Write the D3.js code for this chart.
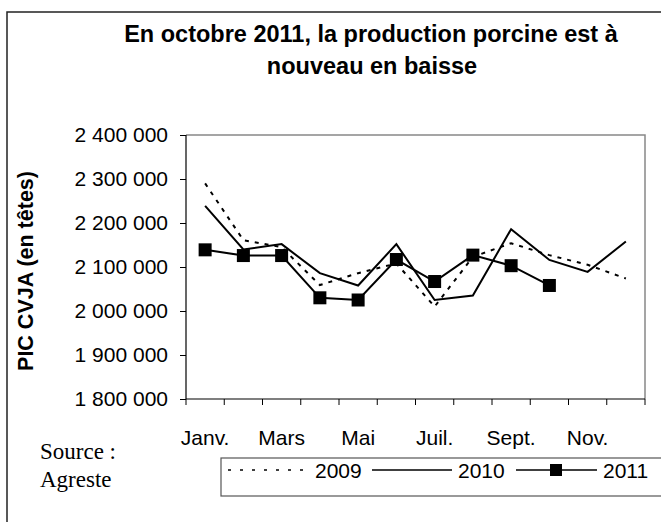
<!DOCTYPE html>
<html>
<head>
<meta charset="utf-8">
<script src="https://d3js.org/d3.v7.min.js"></script>
<style>
  body { margin: 0; background: #fff; }
  svg text { font-family: "Liberation Sans", Arial, sans-serif; fill: #000; }
</style>
</head>
<body>
<div id="chart"></div>
<script>
var width = 661, height = 522;

// donnees
var months = ["Janv.", "Févr.", "Mars", "Avr.", "Mai", "Juin", "Juil.", "Août", "Sept.", "Oct.", "Nov.", "Déc."];
var y2009 = [2290000, 2161000, 2145000, 2059000, 2086000, 2108000, 2010000, 2123000, 2154000, 2127000, 2105000, 2074000];
var y2010 = [2239000, 2140000, 2152000, 2086000, 2058000, 2152000, 2025000, 2035000, 2186000, 2116000, 2089000, 2158000];
var y2011 = [2139000, 2126000, 2126000, 2030000, 2025000, 2117000, 2067000, 2127000, 2103000, 2058000];
var yTicks = [1800000, 1900000, 2000000, 2100000, 2200000, 2300000, 2400000];

var fr = d3.formatLocale({decimal: ",", thousands: " ", grouping: [3], currency: ["", " €"]});

var svg = d3.select("#chart")
  .append("svg")
  .attr("width", width)
  .attr("height", height);

// cadre exterieur
svg.append("rect")
  .attr("x", 7).attr("y", 12)
  .attr("width", 700).attr("height", 600)
  .attr("fill", "none")
  .attr("stroke", "#222")
  .attr("stroke-width", 1.5);

// titre
svg.append("text")
  .attr("x", 371).attr("y", 42)
  .attr("text-anchor", "middle")
  .style("font-size", "23.5px").style("font-weight", "bold")
  .text("En octobre 2011, la production porcine est à");
svg.append("text")
  .attr("x", 372).attr("y", 74)
  .attr("text-anchor", "middle")
  .style("font-size", "23.5px").style("font-weight", "bold")
  .text("nouveau en baisse");

var pLeft = 186, pRight = 645, pTop = 135, pBottom = 399;

var x = d3.scaleBand().domain(months).range([pLeft, pRight]);
var y = d3.scaleLinear().domain([1800000, 2400000]).range([pBottom, pTop]);

// bord du trace (haut et droite en gris)
svg.append("path")
  .attr("d", "M" + pLeft + "," + pTop + "H" + pRight + "V" + pBottom)
  .attr("fill", "none")
  .attr("stroke", "#888")
  .attr("stroke-width", 1.5);

// axe Y
var yAxis = svg.append("g")
  .attr("transform", "translate(" + pLeft + ",0)")
  .call(d3.axisLeft(y).tickValues(yTicks).tickSize(6).tickPadding(12).tickFormat(fr.format(",")));
yAxis.select(".domain").remove();
yAxis.selectAll("line").attr("stroke", "#000");
yAxis.selectAll("text").style("font-size", "21px").style("font-family", "Liberation Sans, Arial, sans-serif");
svg.append("line")
  .attr("x1", pLeft).attr("x2", pLeft).attr("y1", pTop).attr("y2", pBottom)
  .attr("stroke", "#000").attr("stroke-width", 1.2);

// axe X
var xAxis = svg.append("g")
  .attr("transform", "translate(0," + pBottom + ")")
  .call(d3.axisBottom(x).tickSize(0).tickPadding(31)
    .tickFormat(function(d, i) { return i % 2 === 0 ? d : ""; }));
xAxis.select(".domain").remove();
xAxis.selectAll("text").style("font-size", "21px").style("font-family", "Liberation Sans, Arial, sans-serif");
svg.append("line")
  .attr("x1", pLeft).attr("x2", pRight).attr("y1", pBottom).attr("y2", pBottom)
  .attr("stroke", "#000").attr("stroke-width", 1.2);
svg.append("g").selectAll("line")
  .data(months.concat(["fin"]))
  .enter().append("line")
  .attr("x1", function(d) { return d === "fin" ? pRight : x(d); })
  .attr("x2", function(d) { return d === "fin" ? pRight : x(d); })
  .attr("y1", pBottom).attr("y2", pBottom + 6)
  .attr("stroke", "#000");

// titre axe Y
svg.append("text")
  .attr("transform", "translate(33,271) rotate(-90)")
  .attr("text-anchor", "middle")
  .style("font-size", "21.5px").style("font-weight", "bold")
  .text("PIC CVJA (en têtes)");

var line = d3.line()
  .x(function(d, i) { return x(months[i]) + x.bandwidth() / 2; })
  .y(function(d) { return y(d); });

svg.append("path").datum(y2009)
  .attr("d", line)
  .attr("fill", "none").attr("stroke", "#000")
  .attr("stroke-width", 2).attr("stroke-dasharray", "4,6");

svg.append("path").datum(y2010)
  .attr("d", line)
  .attr("fill", "none").attr("stroke", "#000")
  .attr("stroke-width", 2);

svg.append("path").datum(y2011)
  .attr("d", line)
  .attr("fill", "none").attr("stroke", "#000")
  .attr("stroke-width", 2);

var sq = 13;
svg.append("g").selectAll("rect")
  .data(y2011)
  .enter().append("rect")
  .attr("x", function(d, i) { return x(months[i]) + x.bandwidth() / 2 - sq / 2; })
  .attr("y", function(d) { return y(d) - sq / 2; })
  .attr("width", sq).attr("height", sq)
  .attr("fill", "#000");

// source
svg.append("text")
  .attr("x", 40).attr("y", 459)
  .style("font-family", "Liberation Serif, Times New Roman, serif")
  .style("font-size", "23px")
  .text("Source :");
svg.append("text")
  .attr("x", 40).attr("y", 487)
  .style("font-family", "Liberation Serif, Times New Roman, serif")
  .style("font-size", "23px")
  .text("Agreste");

// legende
var lg = svg.append("g");
lg.append("rect")
  .attr("x", 221).attr("y", 458)
  .attr("width", 460).attr("height", 38)
  .attr("fill", "#fff")
  .attr("stroke", "#555").attr("stroke-width", 1.2);
var ly = 470;
lg.append("line")
  .attr("x1", 228).attr("x2", 306).attr("y1", ly).attr("y2", ly)
  .attr("stroke", "#000").attr("stroke-width", 1.5).attr("stroke-dasharray", "3,9");
lg.append("text").attr("x", 315).attr("y", ly + 8).style("font-size", "21px").text("2009");
lg.append("line")
  .attr("x1", 372).attr("x2", 452).attr("y1", ly).attr("y2", ly)
  .attr("stroke", "#000").attr("stroke-width", 1.5);
lg.append("text").attr("x", 458).attr("y", ly + 8).style("font-size", "21px").text("2010");
lg.append("line")
  .attr("x1", 516).attr("x2", 597).attr("y1", ly).attr("y2", ly)
  .attr("stroke", "#000").attr("stroke-width", 1.5);
lg.append("rect")
  .attr("x", 556 - 6).attr("y", ly - 6)
  .attr("width", 12).attr("height", 12)
  .attr("fill", "#000");
lg.append("text").attr("x", 603).attr("y", ly + 8).style("font-size", "21px").text("2011");
</script>
</body>
</html>
